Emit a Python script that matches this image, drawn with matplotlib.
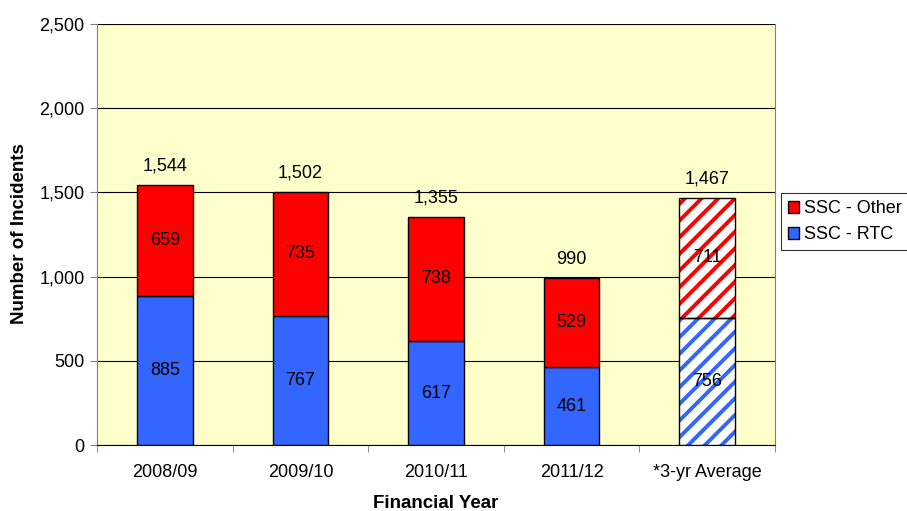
import matplotlib
matplotlib.use("Agg")
import matplotlib.pyplot as plt
from matplotlib.patches import Patch
import numpy as np

plt.rcParams['font.family'] = ['Liberation Sans', 'DejaVu Sans']
plt.rcParams['hatch.linewidth'] = 2.8

categories = ["2008/09", "2009/10", "2010/11", "2011/12", "*3-yr Average"]
rtc = [885, 767, 617, 461, 756]
other = [659, 735, 738, 529, 711]
totals = [1544, 1502, 1355, 990, 1467]
hatched = [False, False, False, False, True]

red = "#FF0000"
blue = "#3366FF"
fs = 13

fig = plt.figure(figsize=(9.07, 5.11), dpi=100)
ax = fig.add_axes([97/907, 1-445/511, (775-97)/907, (445-24)/511])
ax.set_facecolor("#FFFFCC")

x = np.arange(len(categories))
w = 0.41
for i in x:
    if hatched[i]:
        ax.bar(i, rtc[i], w, color="white", edgecolor=blue, hatch="//", linewidth=0, zorder=3)
        ax.bar(i, other[i], w, bottom=rtc[i], color="white", edgecolor=red, hatch="//", linewidth=0, zorder=3)
        ax.bar(i, rtc[i], w, fill=False, edgecolor="black", linewidth=1, zorder=4)
        ax.bar(i, other[i], w, bottom=rtc[i], fill=False, edgecolor="black", linewidth=1, zorder=4)
    else:
        ax.bar(i, rtc[i], w, color=blue, edgecolor="black", linewidth=1, zorder=3)
        ax.bar(i, other[i], w, bottom=rtc[i], color=red, edgecolor="black", linewidth=1, zorder=3)
    ax.text(i, rtc[i]/2, f"{rtc[i]:,}", ha="center", va="center", fontsize=fs, zorder=5)
    ax.text(i, rtc[i] + other[i]/2, f"{other[i]:,}", ha="center", va="center", fontsize=fs, zorder=5)
    ax.text(i, totals[i] + 60, f"{totals[i]:,}", ha="center", va="bottom", fontsize=fs, zorder=5)

ax.set_xlim(-0.5, 4.5)
ax.set_ylim(0, 2500)
ax.set_yticks(np.arange(0, 2501, 500))
ax.set_yticklabels([f"{v:,}" for v in range(0, 2501, 500)], fontsize=fs)
ax.yaxis.grid(True, color="black", linewidth=0.8, zorder=1)
ax.set_axisbelow(True)
ax.set_xticks(x)
ax.set_xticklabels(categories, fontsize=fs)
ax.tick_params(axis="x", length=0, pad=14)
ax.set_xticks(np.arange(-0.5, 5.0, 1.0), minor=True)
ax.tick_params(axis="x", which="minor", length=5, direction="out", color="gray")
ax.tick_params(axis="y", length=5, direction="out", color="gray", pad=4)

ax.spines["top"].set_visible(False)
ax.spines["left"].set_color("gray")
ax.spines["right"].set_color("gray")
ax.spines["bottom"].set_color("black")

fig.text(20/907, 1-234/511, "Number of Incidents", rotation=90, ha="center", va="center",
         fontsize=13.5, fontweight="bold")
fig.text(436/907, 1-503/511, "Financial Year", ha="center", va="center",
         fontsize=13.5, fontweight="bold")

handles = [Patch(facecolor=red, edgecolor="black", label="SSC - Other"),
           Patch(facecolor=blue, edgecolor="black", label="SSC - RTC")]
leg = fig.legend(handles=handles, loc="upper left", bbox_to_anchor=(781/907, 1-193/511),
                 fontsize=fs, frameon=True, fancybox=False, edgecolor="black",
                 handlelength=0.6, handleheight=0.6, handletextpad=0.3, borderpad=0.4,
                 labelspacing=0.5, borderaxespad=0)
leg.get_frame().set_linewidth(0.8)

fig.savefig("out.png", dpi=100)
